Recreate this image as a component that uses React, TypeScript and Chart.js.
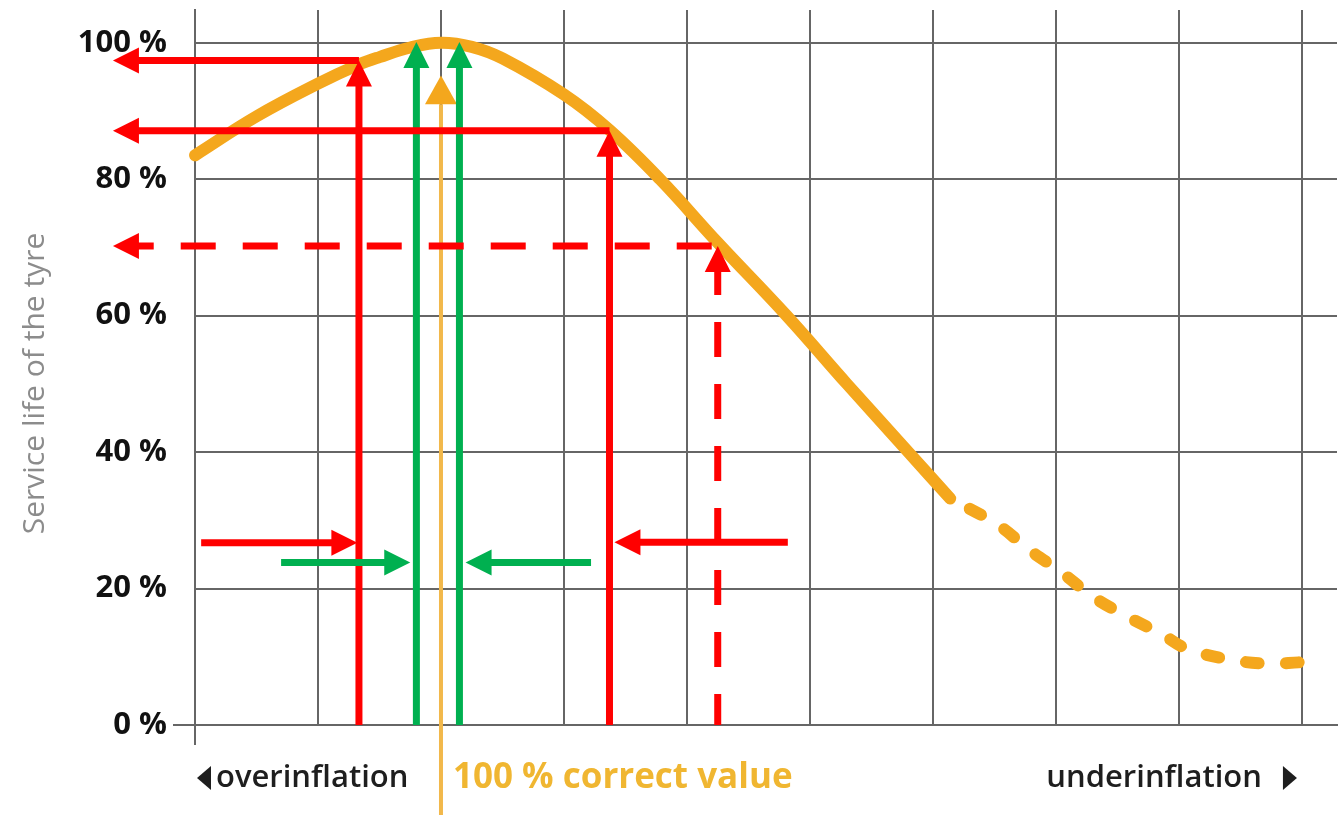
import React, { useEffect, useRef } from 'react';
import { Chart, registerables } from 'chart.js';

Chart.register(...registerables);

// ---- data ----
const yTickValues = [0, 20, 40, 60, 80, 100];
const xGridValues = [0, 1, 2, 3, 4, 5, 6, 7, 8, 9];

// service-life curve (solid part)
const solidX = [0, 0.5, 1, 1.333, 1.5, 1.75, 2, 2.25, 2.5, 3, 3.37, 3.78, 4.25, 4.81, 5.3, 5.79, 6.14];
const solidY = [83.5, 89.2, 94.0, 96.8, 97.9, 99.3, 100, 99.4, 97.7, 92.4, 87.2, 80, 70.7, 60, 50.0, 40.2, 33.2];
// service-life curve (dashed part)
const dashX = [6.14, 6.53, 6.78, 7.05, 7.3, 7.59, 7.87, 8.05, 8.35, 8.7, 9.0];
const dashY = [33.2, 29.3, 25.7, 22.3, 18.8, 15.8, 13.2, 11.3, 9.8, 9.0, 9.2];

// red vertical arrows (solid) and their read-off level
const redUpX = [1.333, 3.37];
const redUpTip = [97.4, 87.1];
// red vertical arrow (dashed)
const dashedUpX = [4.25];
const dashedUpTip = [70.2];
// where the horizontal read-off arrows point to (left, outside the grid)
const readOffTipX = -0.667;
// green vertical arrows
const greenUpX = [1.8, 2.15];
const greenUpTip = [100.1];
// correct-value marker
const correctX = 2;
const correctMarkerTop = 95.2;
const correctMarkerBase = 91.0;
const correctLineBottom = -13.2;
// inward horizontal arrows (from -> to) at level
const inFrom = [0.05, 0.7, 3.22, 4.82];
const inTo = [1.32, 1.75, 2.2, 3.41];
const inLevel = [26.7, 23.8, 23.8, 26.8];
const inColor = ['red', 'green', 'green', 'red'];

// labels
const yTitle = 'Service life of the tyre';
const leftLabel = 'overinflation';
const centerLabel = '100 % correct value';
const rightLabel = 'underinflation';

// ---- styles ----
const GRID = '#666666';
const ORANGE = '#F4A71D';
const CORRECT = '#F2B84B';
const CORRECT_TEXT = '#F0B631';
const RED = '#FF0000';
const GREEN = '#00B050';
const FONT = '"Open Sans", "DejaVu Sans", sans-serif';

function head(ctx: CanvasRenderingContext2D, tx: number, ty: number, dx: number, dy: number, len: number, hw: number, color: string) {
  const bx = tx - dx * len;
  const by = ty - dy * len;
  const px = -dy;
  const py = dx;
  ctx.fillStyle = color;
  ctx.beginPath();
  ctx.moveTo(tx, ty);
  ctx.lineTo(bx + px * hw, by + py * hw);
  ctx.lineTo(bx - px * hw, by - py * hw);
  ctx.closePath();
  ctx.fill();
}

function seg(ctx: CanvasRenderingContext2D, x1: number, y1: number, x2: number, y2: number, color: string, w: number, dash?: number[], offset = 0) {
  ctx.save();
  ctx.strokeStyle = color;
  ctx.lineWidth = w;
  ctx.lineCap = 'butt';
  if (dash) {
    ctx.setLineDash(dash);
    ctx.lineDashOffset = offset;
  }
  ctx.beginPath();
  ctx.moveTo(x1, y1);
  ctx.lineTo(x2, y2);
  ctx.stroke();
  ctx.restore();
}

const HL = 26; // head length
const HW = 13; // head half width
const LW = 7;

const markerPlugin = {
  id: 'markers',
  beforeDatasetsDraw(chart: any) {
    const ctx = chart.ctx as CanvasRenderingContext2D;
    const xs = chart.scales.x;
    const ys = chart.scales.y;
    const cx = xs.getPixelForValue(correctX);
    ctx.save();
    seg(ctx, cx, ys.getPixelForValue(correctMarkerBase), cx, ys.getPixelForValue(correctLineBottom), CORRECT, 4);
    head(ctx, cx, ys.getPixelForValue(correctMarkerTop), 0, -1,
      ys.getPixelForValue(correctMarkerBase) - ys.getPixelForValue(correctMarkerTop), 16, ORANGE);
    ctx.restore();
  },
  afterDatasetsDraw(chart: any) {
    const ctx = chart.ctx as CanvasRenderingContext2D;
    const xs = chart.scales.x;
    const ys = chart.scales.y;
    const y0 = ys.getPixelForValue(0);
    const leftTip = xs.getPixelForValue(readOffTipX);
    ctx.save();
    // green vertical arrows
    greenUpX.forEach((gx) => {
      const px = xs.getPixelForValue(gx);
      const ty = ys.getPixelForValue(greenUpTip[0]);
      seg(ctx, px, y0, px, ty + HL - 1, GREEN, LW);
      head(ctx, px, ty, 0, -1, HL, HW, GREEN);
    });
    // red solid vertical + read-off arrows
    redUpX.forEach((rx, i) => {
      const px = xs.getPixelForValue(rx);
      const ty = ys.getPixelForValue(redUpTip[i]);
      seg(ctx, px, y0, px, ty + HL - 1, RED, LW);
      head(ctx, px, ty, 0, -1, HL, HW, RED);
      seg(ctx, px, ty, leftTip + HL - 1, ty, RED, LW);
      head(ctx, leftTip, ty, -1, 0, HL, HW, RED);
    });
    // red dashed vertical + read-off
    dashedUpX.forEach((rx, i) => {
      const px = xs.getPixelForValue(rx);
      const ty = ys.getPixelForValue(dashedUpTip[i]);
      seg(ctx, px, ty + HL - 1, px, y0, RED, LW, [35, 27], 11);
      head(ctx, px, ty, 0, -1, HL, HW, RED);
      seg(ctx, px, ty, leftTip + HL - 1, ty, RED, LW, [35, 27], 56);
      head(ctx, leftTip, ty, -1, 0, HL, HW, RED);
    });
    // inward arrows
    inFrom.forEach((fx, i) => {
      const x1 = xs.getPixelForValue(fx);
      const x2 = xs.getPixelForValue(inTo[i]);
      const py = ys.getPixelForValue(inLevel[i]);
      const dir = x2 > x1 ? 1 : -1;
      const col = inColor[i] === 'red' ? RED : GREEN;
      seg(ctx, x1, py, x2 - dir * (HL - 1), py, col, LW);
      head(ctx, x2, py, dir, 0, HL, HW, col);
    });
    ctx.restore();
  },
  afterDraw(chart: any) {
    const ctx = chart.ctx as CanvasRenderingContext2D;
    const xs = chart.scales.x;
    const area = chart.chartArea;
    ctx.save();
    // y title
    ctx.translate(35, area.top + (area.bottom - area.top) / 2 + 16);
    ctx.rotate(-Math.PI / 2);
    ctx.font = `400 30px ${FONT}`;
    ctx.fillStyle = '#8c8c8c';
    ctx.textAlign = 'center';
    ctx.textBaseline = 'middle';
    ctx.fillText(yTitle, 0, 0);
    ctx.restore();

    ctx.save();
    const ly = area.bottom + 53;
    const x0 = xs.getPixelForValue(0);
    const x9 = xs.getPixelForValue(9);
    const xc = xs.getPixelForValue(correctX);
    ctx.textBaseline = 'middle';
    ctx.font = `600 31px ${FONT}`;
    ctx.fillStyle = '#1e1e1e';
    // left triangle
    ctx.beginPath();
    ctx.moveTo(x0 + 2, ly);
    ctx.lineTo(x0 + 16, ly - 12);
    ctx.lineTo(x0 + 16, ly + 12);
    ctx.closePath();
    ctx.fill();
    ctx.textAlign = 'left';
    ctx.fillText(leftLabel, x0 + 21, ly);
    // right triangle
    ctx.beginPath();
    ctx.moveTo(x9 - 5, ly);
    ctx.lineTo(x9 - 19, ly - 12);
    ctx.lineTo(x9 - 19, ly + 12);
    ctx.closePath();
    ctx.fill();
    ctx.textAlign = 'right';
    ctx.fillText(rightLabel, x9 - 40, ly);
    // center label
    ctx.font = `700 35px ${FONT}`;
    ctx.fillStyle = CORRECT_TEXT;
    ctx.textAlign = 'left';
    ctx.fillText(centerLabel, xc + 12, ly);
    ctx.restore();
  },
};

export default function App() {
  const ref = useRef<HTMLCanvasElement>(null);
  useEffect(() => {
    const canvas = ref.current!;
    const chart = new Chart(canvas, {
      type: 'line',
      data: {
        datasets: [
          {
            data: solidX.map((x, i) => ({ x, y: solidY[i] })),
            borderColor: ORANGE,
            borderWidth: 12,
            pointRadius: 0,
            tension: 0.4,
            borderCapStyle: 'round',
            borderJoinStyle: 'round',
            fill: false,
            clip: false as any,
          },
          {
            data: dashX.map((x, i) => ({ x, y: dashY[i] })),
            borderColor: ORANGE,
            borderWidth: 12,
            pointRadius: 0,
            tension: 0.4,
            borderCapStyle: 'round',
            borderJoinStyle: 'round',
            borderDash: [13, 27],
            borderDashOffset: 18,
            fill: false,
            clip: false as any,
          },
        ],
      },
      options: {
        animation: false,
        responsive: false,
        layout: { padding: { top: 10, right: 4, left: 0, bottom: 0 } },
        plugins: { legend: { display: false }, tooltip: { enabled: false } },
        events: [],
        scales: {
          x: {
            type: 'linear',
            min: 0,
            max: 9.285,
            afterBuildTicks: (s: any) => {
              s.ticks = xGridValues.map((v) => ({ value: v }));
            },
            afterFit: (s: any) => {
              s.height = 95;
              s.paddingLeft = 0;
              s.paddingRight = 0;
            },
            ticks: { display: false },
            grid: {
              color: GRID,
              lineWidth: 2,
              drawTicks: true,
              tickLength: 20,
              tickColor: (c: any) => (c.tick && c.tick.value === 0 ? GRID : 'rgba(0,0,0,0)'),
            },
            border: { display: true, color: GRID, width: 2 },
          },
          y: {
            type: 'linear',
            min: 0,
            max: 104.8,
            afterBuildTicks: (s: any) => {
              s.ticks = yTickValues.map((v) => ({ value: v }));
            },
            afterFit: (s: any) => {
              s.width = 195;
              s.paddingTop = 0;
              s.paddingBottom = 0;
            },
            ticks: {
              callback: (v: any) => `${v} %`,
              color: '#111111',
              font: { family: FONT, weight: 'bold', size: 31 },
              padding: 6,
            },
            grid: {
              color: GRID,
              lineWidth: 2,
              drawTicks: true,
              tickLength: 22,
              tickColor: (c: any) => (c.tick && c.tick.value === 0 ? GRID : 'rgba(0,0,0,0)'),
            },
            border: { display: true, color: GRID, width: 2 },
          },
        },
      },
      plugins: [markerPlugin],
    } as any);
    return () => chart.destroy();
  }, []);
  return (
    <div style={{ position: 'fixed', left: 0, top: 0, width: 1341, height: 820, background: '#fff' }}>
      <canvas ref={ref} width={1341} height={820} style={{ display: 'block' }} />
    </div>
  );
}
